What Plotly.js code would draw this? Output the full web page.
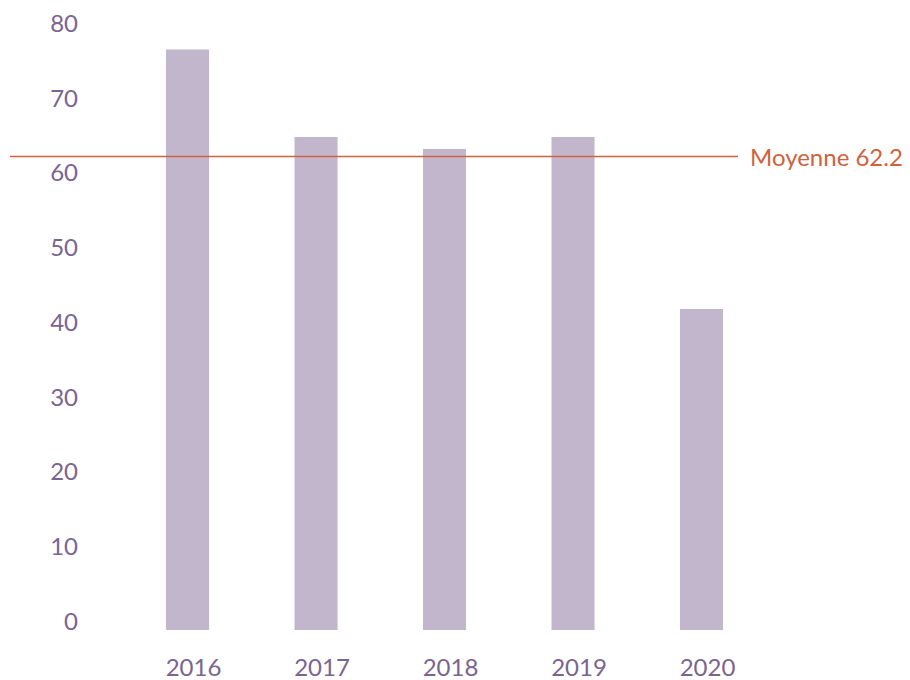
<!DOCTYPE html>
<html>
<head>
<meta charset="utf-8">
<script src="https://cdn.plot.ly/plotly-3.0.1.min.js"></script>
<style>
  html, body { margin: 0; padding: 0; background: #ffffff; }
  #chart { width: 910px; height: 680px; }
</style>
</head>
<body>
<div id="chart"></div>
<script>
// ---- Data ----
const years = ['2016', '2017', '2018', '2019', '2020'];
const values = [76.5, 64.8, 63.2, 64.8, 41.8];
const meanValue = 62.2;
const meanLabel = 'Moyenne 62.2';
const yTicks = [0, 10, 20, 30, 40, 50, 60, 70, 80];

// ---- Styles ----
const barColor = '#c2b6cc';
const textColor = '#7a6491';
const meanColor = '#d0623d';
const fontFamily = 'Lato, "Open Sans", sans-serif';
const yMin = -1.14;

const trace = {
  type: 'bar',
  x: years,
  y: values.map(v => v - yMin),
  base: yMin,
  marker: { color: barColor },
  hoverinfo: 'skip'
};

const layout = {
  width: 910,
  height: 680,
  margin: { l: 85, r: 172, t: 10, b: 50 },
  paper_bgcolor: '#ffffff',
  plot_bgcolor: '#ffffff',
  showlegend: false,
  bargap: 0.665,
  font: { family: fontFamily, size: 24, color: textColor },
  xaxis: {
    type: 'category',
    range: [-0.798, 4.284],
    showgrid: false,
    zeroline: false,
    showline: false,
    ticks: '',
    ticklabelstandoff: 21,
    ticklabelshift: 6,
    tickfont: { family: fontFamily, size: 24, color: textColor }
  },
  yaxis: {
    range: [yMin, 81.8],
    tickvals: yTicks,
    ticktext: yTicks.map(String),
    showgrid: false,
    zeroline: false,
    showline: false,
    ticks: '',
    ticklabelstandoff: 6,
    tickfont: { family: fontFamily, size: 24, color: textColor }
  },
  shapes: [{
    type: 'line',
    xref: 'paper', yref: 'y',
    x0: -0.115, x1: 1.0,
    y0: meanValue, y1: meanValue,
    line: { color: meanColor, width: 1.5 }
  }],
  annotations: [{
    xref: 'paper', yref: 'y',
    x: 1.016, y: meanValue,
    xanchor: 'left', yanchor: 'middle',
    text: meanLabel,
    showarrow: false,
    font: { family: fontFamily, size: 24, color: meanColor }
  }]
};

Plotly.newPlot('chart', [trace], layout, { displayModeBar: false, staticPlot: true });
</script>
</body>
</html>
